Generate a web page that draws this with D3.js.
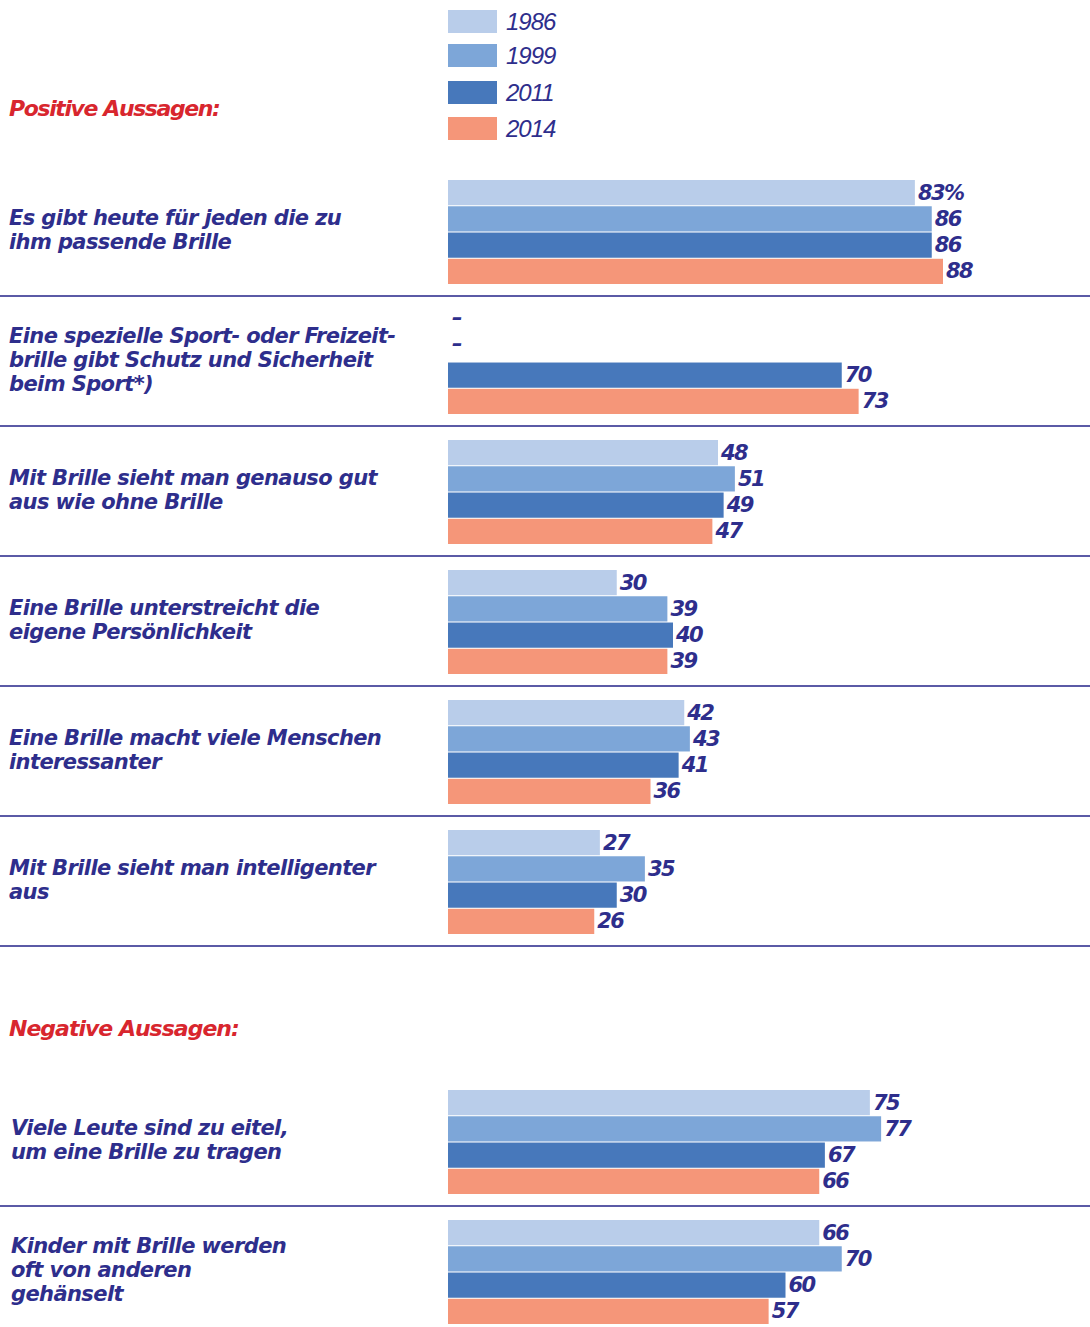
<!DOCTYPE html>
<html>
<head>
<meta charset="utf-8">
<script src="https://cdn.jsdelivr.net/npm/d3@7"></script>
<style>
  body { margin: 0; background: #fff; }
  svg text { font-family: "DejaVu Sans", "Liberation Sans", sans-serif; }
  svg text.legend { font-family: "Liberation Sans", sans-serif; }
</style>
</head>
<body>
<div id="chart"></div>
<script>
// data
var years = ["1986", "1999", "2011", "2014"];
var statements = [
    "Es gibt heute für jeden die zu\nihm passende Brille",
    "Eine spezielle Sport- oder Freizeit-\nbrille gibt Schutz und Sicherheit\nbeim Sport*)",
    "Mit Brille sieht man genauso gut\naus wie ohne Brille",
    "Eine Brille unterstreicht die\neigene Persönlichkeit",
    "Eine Brille macht viele Menschen\ninteressanter",
    "Mit Brille sieht man intelligenter\naus",
    "Viele Leute sind zu eitel,\num eine Brille zu tragen",
    "Kinder mit Brille werden\noft von anderen\ngehänselt"
];
var v1986 = [83, null, 48, 30, 42, 27, 75, 66];
var v1999 = [86, null, 51, 39, 43, 35, 77, 70];
var v2011 = [86, 70, 49, 40, 41, 30, 67, 60];
var v2014 = [88, 73, 47, 39, 36, 26, 66, 57];
var colors = ["#b9cdea", "#7da6d8", "#4778bb", "#f59679"];

var navy = "#2e2e8c";
var red = "#d8262e";

var W = 1090, H = 1327;
var svg = d3.select("#chart").append("svg")
    .attr("width", W).attr("height", H);

// rows: 6 positive statements, a gap for the heading, 2 negative statements
var rowKeys = ["p0", "p1", "p2", "p3", "p4", "p5", "gap", "n0", "n1"];
var rowOf = ["p0", "p1", "p2", "p3", "p4", "p5", "n0", "n1"];
var y = d3.scaleBand().domain(rowKeys).range([170, 170 + 9 * 130]);
var yInner = d3.scaleBand().domain(years).range([10, 114]).paddingInner(0.04);
var x = d3.scaleLinear().domain([0, 100]).range([448, 448 + 562.5]);

var rows = statements.map(function(s, i) {
    return {
        label: s,
        key: rowOf[i],
        values: [v1986[i], v1999[i], v2011[i], v2014[i]]
    };
});

// legend
var legend = svg.append("g");
years.forEach(function(yr, i) {
    var ly = [10, 44, 81, 117][i];
    legend.append("rect")
        .attr("x", 448).attr("y", ly)
        .attr("width", 49).attr("height", 23)
        .attr("fill", colors[i]);
    legend.append("text")
        .attr("class", "legend")
        .attr("x", 506).attr("y", ly + 20)
        .attr("font-size", 24).attr("font-style", "italic")
        .attr("letter-spacing", -1)
        .attr("fill", navy)
        .text(yr);
});

// headings
svg.append("text")
    .attr("x", 9).attr("y", 116)
    .attr("font-size", 22).attr("font-weight", "bold").attr("font-style", "italic")
    .attr("letter-spacing", -1.4)
    .attr("fill", red).text("Positive Aussagen:");
svg.append("text")
    .attr("x", 9).attr("y", 1036)
    .attr("font-size", 22).attr("font-weight", "bold").attr("font-style", "italic")
    .attr("letter-spacing", -1)
    .attr("fill", red).text("Negative Aussagen:");

// groups
var groups = svg.selectAll("g.row")
    .data(rows)
    .enter().append("g")
    .attr("class", "row")
    .attr("transform", function(d) { return "translate(0," + y(d.key) + ")"; });

// separators (below each statement except the last)
groups.filter(function(d) { return d.key !== "n1"; })
    .append("line")
    .attr("x1", 0).attr("x2", W)
    .attr("y1", 126).attr("y2", 126)
    .attr("stroke", "#5b5aa6").attr("stroke-width", 2);

// statement labels
groups.append("text")
    .attr("font-size", 21).attr("font-weight", "bold").attr("font-style", "italic")
    .attr("letter-spacing", -0.6)
    .attr("fill", navy)
    .each(function(d) {
        var lines = d.label.split("\n");
        var t = d3.select(this);
        var lh = 24;
        var lx = d.key[0] === "n" ? 11 : 9;
        var y0 = 62 + 5 - (lines.length - 1) * lh / 2;
        lines.forEach(function(l, i) {
            t.append("tspan").attr("x", lx)
                .attr("y", y0 + i * lh).text(l);
        });
    });

// bars
groups.selectAll("rect")
    .data(function(d) { return d.values.map(function(v, i) { return { v: v, yr: years[i], i: i }; }); })
    .enter().filter(function(d) { return d.v !== null; })
    .append("rect")
    .attr("x", x(0))
    .attr("y", function(d) { return yInner(d.yr); })
    .attr("width", function(d) { return x(d.v) - x(0); })
    .attr("height", yInner.bandwidth())
    .attr("fill", function(d) { return colors[d.i]; });

// value labels (a dash where there is no value)
groups.selectAll("text.val")
    .data(function(d, gi) { return d.values.map(function(v, i) { return { v: v, yr: years[i], gi: gi }; }); })
    .enter().append("text")
    .attr("class", "val")
    .attr("x", function(d) { return d.v === null ? x(0) + 4 : x(d.v) + 3; })
    .attr("y", function(d) { return yInner(d.yr) + yInner.bandwidth() / 2 + (d.v === null ? 2 : 7); })
    .attr("font-size", 21).attr("font-weight", "bold").attr("font-style", "italic")
    .attr("letter-spacing", function(d) { return d.v === null ? 0 : -1.5; })
    .attr("fill", navy)
    .text(function(d) {
        if (d.v === null) return "–";
        return d.gi === 0 && d.yr === "1986" ? d.v + "%" : d.v;
    });
</script>
</body>
</html>
